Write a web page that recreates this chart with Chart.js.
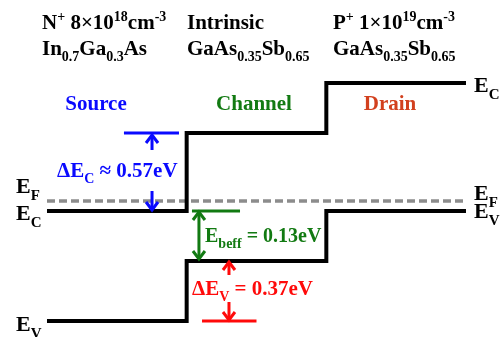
<!DOCTYPE html>
<html>
<head>
<meta charset="utf-8">
<script src="https://cdn.jsdelivr.net/npm/chart.js@4"></script>
<style>
  html, body { margin: 0; padding: 0; background: #ffffff; }
  canvas { display: block; }
</style>
</head>
<body>
<canvas id="bands" width="503" height="337"></canvas>
<script>
// Region boundaries along the device: source | channel | drain
const regionEdges = [0, 1, 2, 3];
// Band edges on a schematic energy axis (Fermi level at 0)
const conductionBand = [-0.10, 0.68, 1.18, 1.18];
const valenceBand = [-1.20, -0.60, -0.10, -0.10];
const fermiLevel = [0, 0];

// Text: _{..} subscript, ^{..} superscript
const regionNames = ['Source', 'Channel', 'Drain'];
const dopingLabels = ['N^{+} 8×10^{18}cm^{-3}', 'Intrinsic', 'P^{+} 1×10^{19}cm^{-3}'];
const materialLabels = ['In_{0.7}Ga_{0.3}As', 'GaAs_{0.35}Sb_{0.65}', 'GaAs_{0.35}Sb_{0.65}'];
const offsetLabels = ['ΔE_{C} ≈ 0.57eV', 'E_{beff} = 0.13eV', 'ΔE_{V} = 0.37eV'];

const BLUE = '#0a0aff';
const GREEN = '#127a12';
const RED = '#ff0a0a';
const DRAIN = '#d2401e';
const SERIF = "'Liberation Serif', 'Times New Roman', Times, serif";

function stepLine(levels) {
  return regionEdges.map((x, i) => ({ x: x, y: levels[i] }));
}
function flatLine(x0, x1, y) {
  return [{ x: x0, y: y }, { x: x1, y: y }];
}

// Rich text with sub/superscripts
function parseRich(s) {
  const out = [];
  const re = /([_^])\{([^}]*)\}/g;
  let last = 0, m;
  while ((m = re.exec(s)) !== null) {
    if (m.index > last) out.push({ t: s.slice(last, m.index), k: 'n' });
    out.push({ t: m[2], k: m[1] === '_' ? 'sub' : 'sup' });
    last = re.lastIndex;
  }
  if (last < s.length) out.push({ t: s.slice(last), k: 'n' });
  return out;
}
function segFont(seg, size) {
  return 'bold ' + (seg.k === 'n' ? size : Math.round(size * 0.68)) + 'px ' + SERIF;
}
function richWidth(ctx, s, size) {
  let w = 0;
  for (const seg of parseRich(s)) {
    ctx.font = segFont(seg, size);
    w += ctx.measureText(seg.t).width;
  }
  return w;
}
function drawRich(ctx, s, x, y, size, color, align) {
  ctx.save();
  ctx.fillStyle = color;
  ctx.textBaseline = 'alphabetic';
  ctx.textAlign = 'left';
  let cx = x;
  if (align === 'center') cx = x - richWidth(ctx, s, size) / 2;
  for (const seg of parseRich(s)) {
    ctx.font = segFont(seg, size);
    let dy = 0;
    if (seg.k === 'sub') dy = size * 0.3;
    if (seg.k === 'sup') dy = -size * 0.36;
    ctx.fillText(seg.t, cx, y + dy);
    cx += ctx.measureText(seg.t).width;
  }
  ctx.restore();
}

function arrowHead(ctx, x, tipY, dir) {
  // dir = -1 points up, +1 points down
  ctx.beginPath();
  ctx.moveTo(x - 6, tipY - dir * 8);
  ctx.lineTo(x, tipY);
  ctx.lineTo(x + 6, tipY - dir * 8);
  ctx.stroke();
}
function arrow(ctx, x, tailY, tipY) {
  const dir = tipY > tailY ? 1 : -1;
  ctx.beginPath();
  ctx.moveTo(x, tailY);
  ctx.lineTo(x, tipY);
  ctx.stroke();
  arrowHead(ctx, x, tipY, dir);
}

const annotations = {
  id: 'annotations',
  afterDatasetsDraw(chart) {
    const ctx = chart.ctx;
    const xs = chart.scales.x, ys = chart.scales.y;
    const px = v => xs.getPixelForValue(v);
    const py = v => ys.getPixelForValue(v);

    ctx.save();
    ctx.lineWidth = 3;
    ctx.lineCap = 'butt';
    ctx.lineJoin = 'miter';

    // Conduction-band offset arrows (channel EC down to source EC)
    ctx.strokeStyle = BLUE;
    const bx = px(0.752);
    arrow(ctx, bx, py(conductionBand[1]) + 17, py(conductionBand[1]) + 2);
    arrow(ctx, bx, py(conductionBand[0]) - 20, py(conductionBand[0]) - 1);

    // Effective barrier: drain EV to channel EV
    ctx.strokeStyle = GREEN;
    const gx = px(1.088);
    const gTop = py(valenceBand[2]) + 1, gBot = py(valenceBand[1]) - 2;
    ctx.beginPath(); ctx.moveTo(gx, gTop); ctx.lineTo(gx, gBot); ctx.stroke();
    arrowHead(ctx, gx, gTop, -1);
    arrowHead(ctx, gx, gBot, 1);

    // Valence-band offset arrows (channel EV down to source EV)
    ctx.strokeStyle = RED;
    const rx = px(1.303);
    arrow(ctx, rx, py(valenceBand[1]) + 14, py(valenceBand[1]) + 1);
    arrow(ctx, rx, py(valenceBand[0]) - 19, py(valenceBand[0]) - 1);
    ctx.restore();

    // Header: doping and material of each region
    const headX = [42, 187, 333];
    for (let i = 0; i < 3; i++) {
      drawRich(ctx, dopingLabels[i], headX[i], 29, 21, '#000000');
      drawRich(ctx, materialLabels[i], headX[i], 55, 21, '#000000');
    }

    // Region names
    drawRich(ctx, regionNames[0], 96, 110, 21, BLUE, 'center');
    drawRich(ctx, regionNames[1], 254, 110, 21, GREEN, 'center');
    drawRich(ctx, regionNames[2], 390, 110, 21, DRAIN, 'center');

    // Band-edge names
    drawRich(ctx, 'E_{F}', 16, py(fermiLevel[0]) - 8, 22, '#000000');
    drawRich(ctx, 'E_{C}', 16, py(conductionBand[0]) + 9, 22, '#000000');
    drawRich(ctx, 'E_{V}', 16, py(valenceBand[0]) + 10, 22, '#000000');
    drawRich(ctx, 'E_{C}', 474, py(conductionBand[3]) + 9, 22, '#000000');
    drawRich(ctx, 'E_{F}', 474, py(fermiLevel[1]) - 1, 22, '#000000');
    drawRich(ctx, 'E_{V}', 474, py(valenceBand[3]) + 7, 22, '#000000');

    // Offset values
    drawRich(ctx, offsetLabels[0], 57, 177, 21, BLUE);
    drawRich(ctx, offsetLabels[1], 205, 242, 20, GREEN);
    drawRich(ctx, offsetLabels[2], 192, 295, 21, RED);
  }
};

const lineStyle = { pointRadius: 0, fill: false, borderJoinStyle: 'miter', borderCapStyle: 'butt' };

function build() {
  new Chart(document.getElementById('bands'), {
    type: 'line',
    data: {
      datasets: [
        Object.assign({ label: 'E_C', data: stepLine(conductionBand), stepped: 'before',
          borderColor: '#000000', borderWidth: 4 }, lineStyle),
        Object.assign({ label: 'E_V', data: stepLine(valenceBand), stepped: 'before',
          borderColor: '#000000', borderWidth: 4 }, lineStyle),
        Object.assign({ label: 'E_F', data: flatLine(regionEdges[0], regionEdges[3], fermiLevel[0]),
          borderColor: '#8c8c8c', borderWidth: 3.5, borderDash: [8, 4] }, lineStyle),
        Object.assign({ label: 'channel E_C ref', data: flatLine(0.551, 0.945, conductionBand[1]),
          borderColor: BLUE, borderWidth: 3 }, lineStyle),
        Object.assign({ label: 'drain E_V ref', data: flatLine(1.038, 1.382, valenceBand[2]),
          borderColor: GREEN, borderWidth: 3 }, lineStyle),
        Object.assign({ label: 'source E_V ref', data: flatLine(1.11, 1.50, valenceBand[0]),
          borderColor: RED, borderWidth: 3 }, lineStyle)
      ]
    },
    options: {
      responsive: false,
      animation: false,
      devicePixelRatio: 1,
      layout: { padding: 0 },
      plugins: { legend: { display: false }, tooltip: { enabled: false } },
      scales: {
        x: { type: 'linear', min: -0.3365, max: 3.265, display: false },
        y: { type: 'linear', min: -1.36, max: 2.01, display: false }
      }
    },
    plugins: [annotations]
  });
}

if (document.fonts && document.fonts.load) {
  Promise.all([
    document.fonts.load("bold 21px 'Liberation Serif'"),
    document.fonts.load("bold 14px 'Liberation Serif'")
  ]).then(build, build);
} else {
  build();
}
</script>
</body>
</html>
